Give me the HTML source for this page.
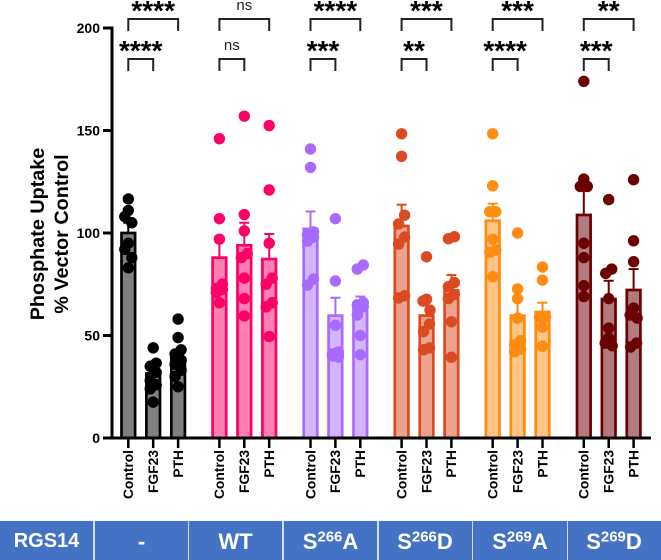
<!DOCTYPE html>
<html>
<head>
<meta charset="utf-8">
<title>Phosphate Uptake Chart</title>
<style>
html,body{margin:0;padding:0;background:#fff;}
#wrap{position:relative;width:661px;height:560px;overflow:hidden;font-family:"Liberation Sans",sans-serif;}
svg{position:absolute;left:0;top:0;}
svg text{font-family:"Liberation Sans",sans-serif;}
#band{position:absolute;left:0;top:521px;width:661px;height:39px;background:#4472C4;overflow:hidden;}
.cell{position:absolute;top:0;height:39px;line-height:41px;text-align:center;color:#fff;font-weight:bold;font-size:22px;}
.cell sup{font-size:15px;line-height:0;vertical-align:7.5px;}
.cell.head{font-size:20px;line-height:40px;}
.div{position:absolute;top:0;width:1.6px;height:39px;background:#D3DDF0;}
</style>
</head>
<body>
<div id="wrap">
<svg id="chart" width="661" height="521" viewBox="0 0 661 521">
  <g transform="translate(38,234) rotate(-90)">
    <text x="0" y="6" text-anchor="middle" font-size="19.8" font-weight="bold" fill="#000">Phosphate Uptake</text>
    <text x="0" y="30" text-anchor="middle" font-size="19.8" font-weight="bold" fill="#000">% Vector Control</text>
  </g>
</svg>
<div id="band">
  <div class="cell head" style="left:0;width:93px">RGS14</div>
  <div class="div" style="left:93.2px"></div>
  <div class="cell" style="left:94px;width:95px">-</div>
  <div class="div" style="left:187.9px"></div>
  <div class="cell" style="left:189px;width:93px">WT</div>
  <div class="div" style="left:282.2px"></div>
  <div class="cell" style="left:283.5px;width:94px">S<sup>266</sup>A</div>
  <div class="div" style="left:377.2px"></div>
  <div class="cell" style="left:378px;width:94px">S<sup>266</sup>D</div>
  <div class="div" style="left:471.8px"></div>
  <div class="cell" style="left:473px;width:94px">S<sup>269</sup>A</div>
  <div class="div" style="left:566.7px"></div>
  <div class="cell" style="left:567.5px;width:93px">S<sup>269</sup>D</div>
</div>
</div>
<script>
const groups = ['none', 'WT', 'S266A', 'S266D', 'S269A', 'S269D'];
const categories = ['Control', 'FGF23', 'PTH'];
const yTicks = [0, 50, 100, 150, 200];
const means = [
  [100, 31.5, 39],
  [88, 94, 87.3],
  [102, 59.7, 63.4],
  [103.4, 59.7, 72],
  [106, 59.7, 61.5],
  [108.8, 67.8, 72.2]
];
const errors = [
  [5, 3, 4],
  [10, 11, 12.2],
  [8.5, 8.7, 5.6],
  [10.4, 7.5, 7.5],
  [8.3, 8.5, 4.5],
  [12.5, 8.9, 10.2]
];
const pointsNone = [
  [116.6, 111, 108, 105, 95, 92, 88, 83],
  [44, 36.5, 35, 32, 28, 26, 24, 17.5],
  [58, 49, 43, 41, 38, 36, 33, 30, 25]
];
const pointsWT = [
  [146, 107, 97, 75, 73, 72.5, 71, 66],
  [157, 109, 101, 90, 88, 78, 68, 59.5],
  [152.4, 121, 95, 78, 75, 66, 64, 49.5]
];
const pointsS266A = [
  [141, 132, 100.5, 99, 98, 96, 77.5, 74.6],
  [107, 76.6, 55, 42, 41, 40.5, 40, 39.5],
  [84.4, 82.4, 66, 65, 64, 60, 50, 40.6]
];
const pointsS266D = [
  [148.4, 137.4, 108.7, 104.4, 98, 94.6, 69.4, 68.3],
  [88.4, 67.7, 66.8, 62.4, 55.6, 51.9, 44, 43],
  [98.2, 97.2, 75.8, 73.8, 70, 68, 56.7, 39.4]
];
const pointsS269A = [
  [148.4, 123, 110.4, 110.4, 97, 91.7, 90.6, 78.7],
  [100, 72.7, 68, 58.5, 47.5, 45.4, 43.4, 42],
  [83.4, 77, 59, 59, 54, 44.8]
];
const pointsS269D = [
  [174, 126.3, 122.7, 122.7, 95, 88, 74.3, 69],
  [116.3, 82.4, 80.3, 68, 53.6, 48.8, 46.3, 45],
  [126, 96.2, 86, 63.4, 60, 58.5, 46.3, 44.4]
];
const allPoints = [pointsNone, pointsWT, pointsS266A, pointsS266D, pointsS269A, pointsS269D];
const strokeColors = ['#000000', '#FF0066', '#A96BFF', '#DB4A21', '#FF8C0F', '#6B0000'];
const fillColors = ['#808080', '#FF80B3', '#D4B5FF', '#EDA28D', '#FFC587', '#B27B80'];
const sigLong = ['****', 'ns', '****', '***', '***', '**'];
const sigShort = ['****', 'ns', '***', '**', '****', '***'];

const NS = 'http://www.w3.org/2000/svg';
const svg = document.getElementById('chart');

function yScale(v) { return 438 - v * 2.05; }
function groupLeft(g) { return 128.3 + g * 91.1; }
function xScale(g, c) { return groupLeft(g) + c * 24.9; }

function make(tag, attrs, parent) {
  const el = document.createElementNS(NS, tag);
  for (const k in attrs) el.setAttribute(k, attrs[k]);
  (parent || svg).appendChild(el);
  return el;
}

function jitter(values) {
  const sorted = values.slice().sort((a, b) => b - a);
  const out = [];
  let i = 0;
  while (i < sorted.length) {
    let j = i;
    while (j + 1 < sorted.length && sorted[j] - sorted[j + 1] < 4.5) j++;
    const n = j - i + 1;
    for (let k = i; k <= j; k++) {
      let off = 0;
      if (n === 3) off = [0, -3.5, 3.5][k - i];
      else if (n > 1) off = (k - i) % 2 === 0 ? 3 : -3;
      out.push([sorted[k], off]);
    }
    i = j + 1;
  }
  return out;
}

// bars, error bars, points
groups.forEach((gName, g) => {
  categories.forEach((cat, c) => {
    const cx = xScale(g, c);
    const top = yScale(means[g][c]);
    const errTop = yScale(means[g][c] + errors[g][c]);

    const errLine = make('line', {x1: cx, x2: cx, y1: top, y2: errTop, stroke: strokeColors[g], 'stroke-width': 2});
    
    
    const errCap = make('line', {x1: cx - 5, x2: cx + 5, y1: errTop, y2: errTop, stroke: strokeColors[g], 'stroke-width': 2});
    
    

    const bar = make('rect', {x: cx - 6.8, y: top, width: 13.6, height: 438 - top, fill: fillColors[g], stroke: strokeColors[g], 'stroke-width': 2.7});
    
    

    jitter(allPoints[g][c]).forEach(p => {
      const dot = make('circle', {cx: cx + p[1], cy: yScale(p[0]), r: 5.7, fill: strokeColors[g]});
      
      
    });
  });
});

// y axis
const yAxis = make('line', {x1: 112, x2: 112, y1: 26.5, y2: 439.5, stroke: '#000', 'stroke-width': 3});


yTicks.forEach(t => {
  const tick = make('line', {x1: 103, x2: 112, y1: yScale(t), y2: yScale(t), stroke: '#000', 'stroke-width': 3});
  
  
  const lab = make('text', {x: 100, y: yScale(t) + 5, 'text-anchor': 'end', 'font-size': 14, 'font-weight': 'bold', fill: '#000'});
  lab.textContent = t;
  
  
});

// x axis
const xAxis = make('line', {x1: 111, x2: 651, y1: 438, y2: 438, stroke: '#000', 'stroke-width': 3});


groups.forEach((gName, g) => {
  categories.forEach((cat, c) => {
    const cx = xScale(g, c);
    const tick = make('line', {x1: cx, x2: cx, y1: 438, y2: 448, stroke: '#000', 'stroke-width': 2.5});
    
    
    const lab = make('text', {transform: 'translate(' + (cx + 4.8) + ',450) rotate(-90)', 'text-anchor': 'end', 'font-size': 13.8, 'font-weight': 'bold', fill: '#000'});
    lab.textContent = cat;
    
    
  });
});

// significance brackets
function bracket(x1, x2, top, label, name) {
  const b = make('path', {d: 'M' + x1 + ' ' + (top + 12) + 'V' + top + 'H' + x2 + 'V' + (top + 12), fill: 'none', stroke: '#222', 'stroke-width': 2});
  
  
  const mid = (x1 + x2) / 2;
  let t;
  if (label === 'ns') {
    t = make('text', {x: mid, y: top - 9, 'text-anchor': 'middle', 'font-size': 15, fill: '#222'});
  } else {
    t = make('text', {x: mid, y: top + 1, 'text-anchor': 'middle', 'font-size': 28, 'font-weight': 'bold', fill: '#000'});
  }
  t.textContent = label;
  
  
}
groups.forEach((gName, g) => {
  bracket(xScale(g, 0), xScale(g, 2), 19, sigLong[g], 'sig-pth-' + gName);
  bracket(xScale(g, 0), xScale(g, 1), 59, sigShort[g], 'sig-fgf23-' + gName);
});
</script>
</body>
</html>
